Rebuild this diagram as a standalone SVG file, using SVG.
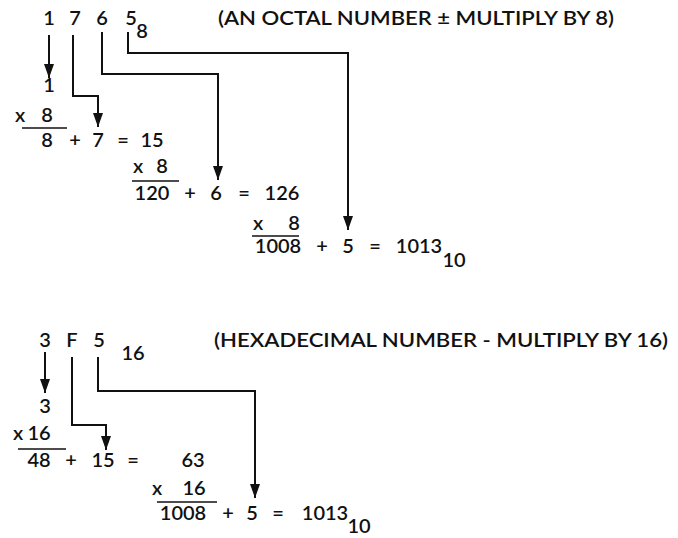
<svg xmlns="http://www.w3.org/2000/svg" width="678" height="538" viewBox="0 0 678 538">
<style>
text{font-family:Lato,"Open Sans","Liberation Sans",sans-serif;font-size:20px;font-weight:600;fill:#111;text-anchor:middle}
.t{text-anchor:start}
.c{fill:none;stroke:#111;stroke-width:2}
.r{stroke:#111;stroke-width:1.6}
</style>
<defs>
<marker id="b" markerUnits="userSpaceOnUse" markerWidth="14" markerHeight="10" refX="14" refY="5" orient="auto" viewBox="0 0 14 10">
<path d="M0,0 L14,5 L0,10 Z" fill="#111"/>
</marker>
</defs>
<rect width="678" height="538" fill="#fff"/>
<g id="octal">
<text x="49" y="25">1</text>
<text x="75" y="25">7</text>
<text x="102" y="25">6</text>
<text x="131" y="25">5</text>
<text x="142" y="38">8</text>
<text class="t" x="218" y="25" textLength="396" lengthAdjust="spacingAndGlyphs">(AN OCTAL NUMBER ± MULTIPLY BY 8)</text>
</g>
<g id="oct-step1">
<text x="49" y="92">1</text>
<text x="20" y="122">x</text><text x="47" y="122">8</text>
<line class="r" x1="22" y1="128" x2="67" y2="128"/>
<text x="47" y="147">8</text><text x="75" y="147">+</text><text x="98" y="147">7</text><text x="123" y="147">=</text><text x="152" y="147">15</text>
</g>
<g id="oct-step2">
<text x="138" y="173">x</text><text x="162" y="173">8</text>
<line class="r" x1="132" y1="181" x2="179" y2="181"/>
<text x="152" y="200">120</text><text x="190" y="200">+</text><text x="216" y="200">6</text><text x="244" y="200">=</text><text x="282" y="200">126</text>
</g>
<g id="oct-step3">
<text x="258" y="230">x</text><text x="294" y="230">8</text>
<line class="r" x1="252" y1="236" x2="299" y2="236"/>
<text x="278" y="253">1008</text><text x="322" y="253">+</text><text x="348" y="253">5</text><text x="375" y="253">=</text><text x="419" y="253">1013</text><text x="454" y="267">10</text>
</g>
<g id="hex">
<text x="45" y="347">3</text>
<text x="72" y="347">F</text>
<text x="99" y="347">5</text>
<text x="133" y="360">16</text>
<text class="t" x="214" y="347" textLength="454" lengthAdjust="spacingAndGlyphs">(HEXADECIMAL NUMBER - MULTIPLY BY 16)</text>
</g>
<g id="hex-step1">
<text x="45" y="413">3</text>
<text x="18" y="440">x</text><text x="39" y="440">16</text>
<line class="r" x1="18" y1="449" x2="66" y2="449"/>
<text x="39" y="467">48</text><text x="71" y="467">+</text><text x="103" y="467">15</text><text x="133" y="467">=</text><text x="193" y="467">63</text>
</g>
<g id="hex-step2">
<text x="157" y="495">x</text><text x="194" y="495">16</text>
<line class="r" x1="157" y1="502" x2="217" y2="502"/>
<text x="183" y="520">1008</text><text x="228" y="520">+</text><text x="252" y="520">5</text><text x="278" y="520">=</text><text x="325" y="520">1013</text><text x="359" y="533">10</text>
</g>
<g id="connectors">
<path class="c" d="M49,35 V78" marker-end="url(#b)"/>
<path class="c" d="M73,35 V96 H98 V127" marker-end="url(#b)"/>
<path class="c" d="M102,32 V74 H218 V180" marker-end="url(#b)"/>
<path class="c" d="M128,32 V53 H348 V230" marker-end="url(#b)"/>
<path class="c" d="M45,352 V393" marker-end="url(#b)"/>
<path class="c" d="M72,357 V425 H106 V450" marker-end="url(#b)"/>
<path class="c" d="M98,357 V391 H255 V498" marker-end="url(#b)"/>
</g>
</svg>
